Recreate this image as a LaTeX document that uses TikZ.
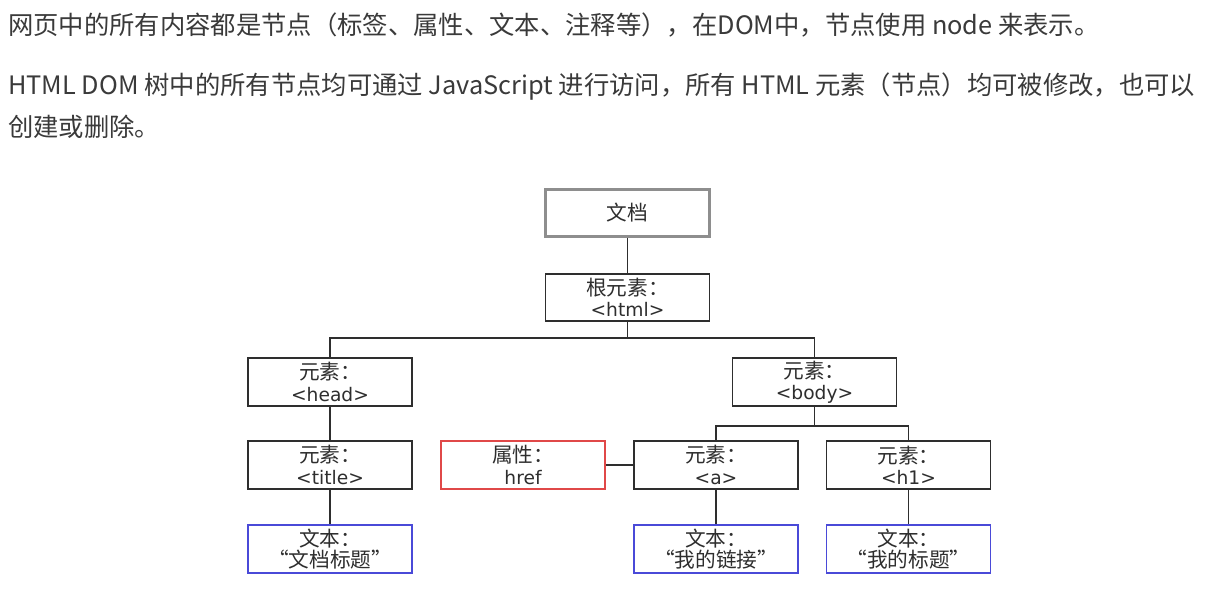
\documentclass[tikz,border=0pt]{standalone}
\usepackage{fontspec}
\setmainfont{Noto Sans CJK SC}
\newfontfamily\cjk{Noto Sans CJK SC}
\newfontfamily\lat{DejaVu Sans}
\definecolor{txt}{HTML}{3A3A3A}
\definecolor{boxk}{HTML}{2E2E2E}
\definecolor{boxg}{HTML}{8E8E8E}
\definecolor{boxr}{HTML}{E04848}
\definecolor{boxb}{HTML}{4A4AD8}
\tikzset{
  para/.style={anchor=base west, inner sep=0pt, text=txt, font=\fontsize{19}{23}\selectfont},
  dbox/.style={draw=boxk, line width=1.3pt, minimum width=123pt, minimum height=35.5pt, inner sep=0pt, align=center, text=boxk, font=\fontsize{15.5}{16}\selectfont},
  gbox/.style={dbox, draw=boxg, line width=1.8pt},
  rbox/.style={dbox, draw=boxr},
  bbox/.style={dbox, draw=boxb},
  link/.style={draw=boxk, line width=1.3pt}
}
\newcommand{\lt}[1]{{\lat\fontsize{14}{16}\selectfont #1}}
\begin{document}
\begin{tikzpicture}[x=0.75pt,y=-0.75pt]
\useasboundingbox (0,0) rectangle (1222,613);
\fill[white] (0,0) rectangle (1222,613);
\node[para] (p1) at (8,35) {网页中的所有内容都是节点（标签、属性、文本、注释等），在DOM中，节点使用 node 来表示。};
\node[para] (p2) at (8,95) {HTML DOM 树中的所有节点均可通过 JavaScript 进行访问，所有 HTML 元素（节点）均可被修改，也可以};
\node[para] (p3) at (8,137) {创建或删除。};

\node[gbox] (doc) at (627.5,213) {\cjk 文档};
\node[dbox] (html) at (627.5,297.5) {\cjk 根元素：\\\lt{<html>}};
\node[dbox] (head) at (330,382) {\cjk 元素：\\\lt{<head>}};
\node[dbox] (body) at (814.5,382) {\cjk 元素：\\\lt{<body>}};
\node[dbox] (title) at (330,465) {\cjk 元素：\\\lt{<title>}};
\node[rbox] (href) at (523,465) {\cjk 属性：\\\lt{href}};
\node[dbox] (a) at (716,465) {\cjk 元素：\\\lt{<a>}};
\node[dbox] (h1) at (908.5,465) {\cjk 元素：\\\lt{<h1>}};
\node[bbox] (t1) at (330,549) {\cjk 文本：\\\cjk “文档标题”};
\node[bbox] (t2) at (716,549) {\cjk 文本：\\\cjk “我的链接”};
\node[bbox] (t3) at (908.5,549) {\cjk 文本：\\\cjk “我的标题”};

\coordinate (j1) at (627.5,338);
\coordinate (j2) at (814.5,426);
\draw[link] (doc) -- (html);
\draw[link] (html) -- (j1);
\draw[link] (head.north) |- (j1) -| (body.north);
\draw[link] (head) -- (title);
\draw[link] (title) -- (t1);
\draw[link] (body) -- (j2);
\draw[link] (a.north) |- (j2) -| (h1.north);
\draw[link] (href) -- (a);
\draw[link] (a) -- (t2);
\draw[link] (h1) -- (t3);
\end{tikzpicture}
\end{document}
